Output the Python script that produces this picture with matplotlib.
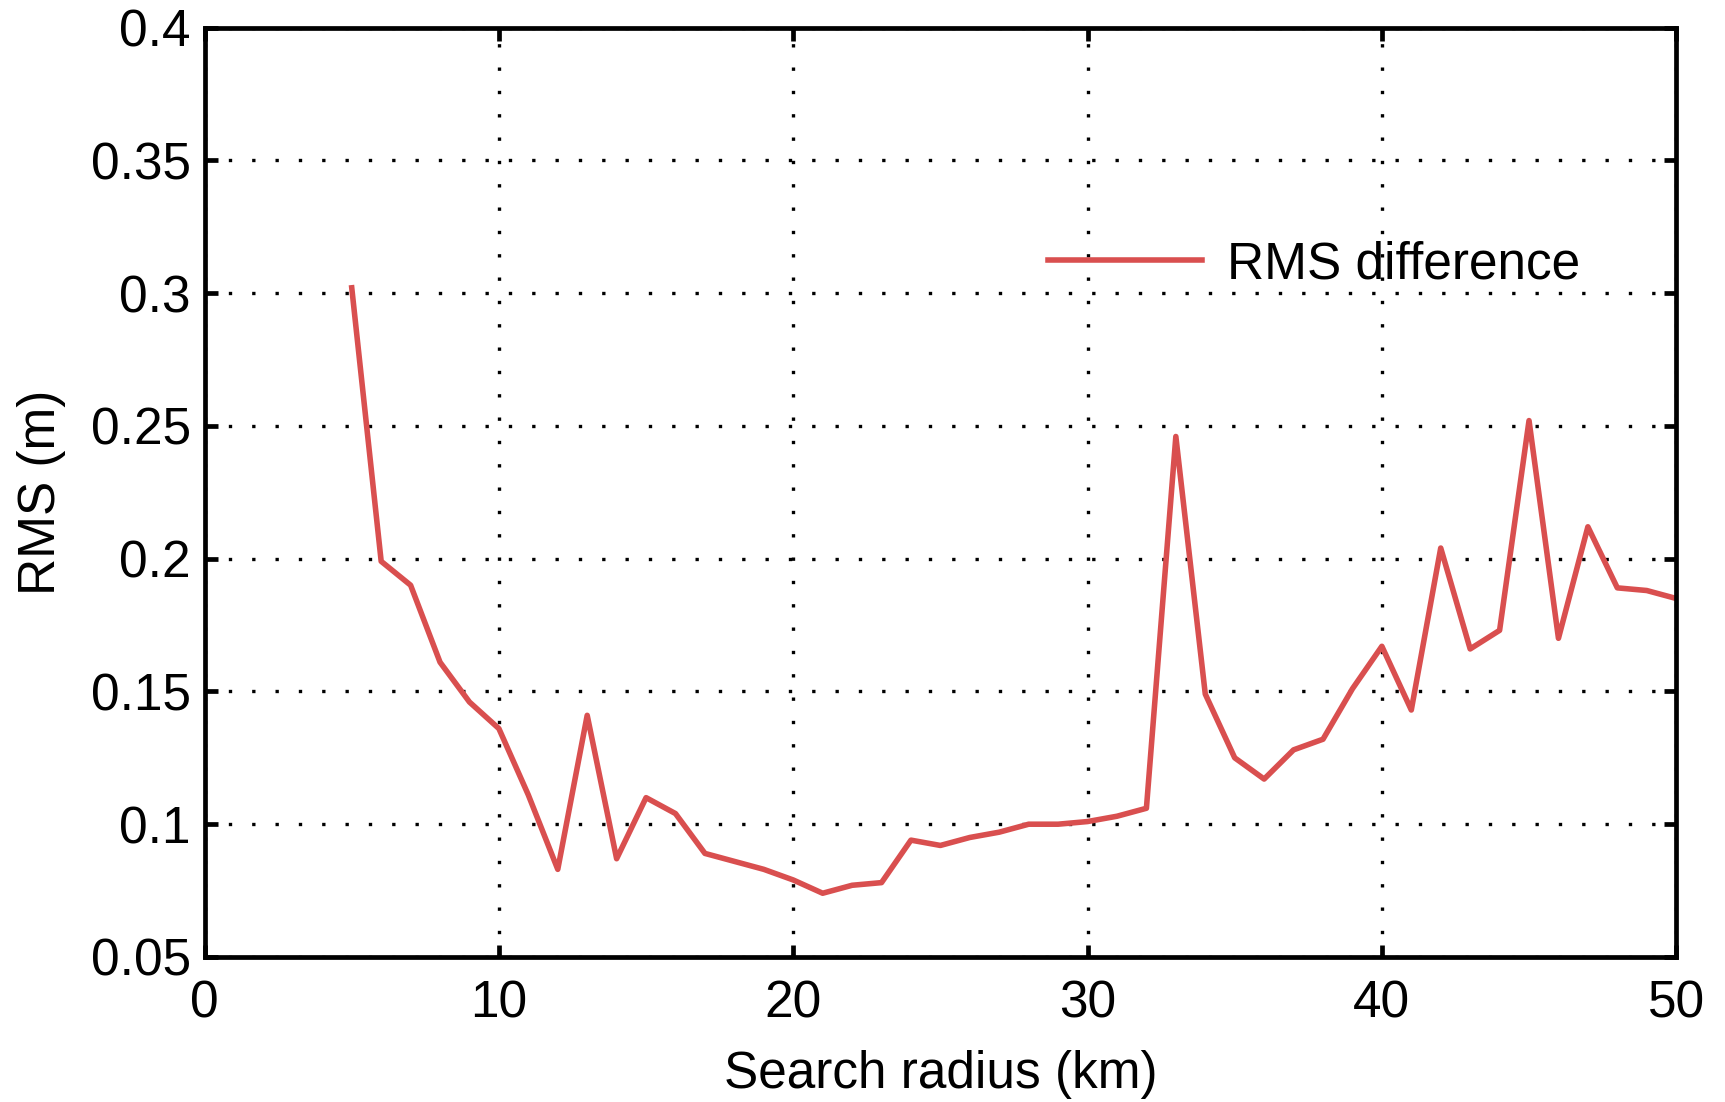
import matplotlib
matplotlib.use("Agg")
import matplotlib.pyplot as plt

plt.rcParams['font.family'] = ['Liberation Sans', 'DejaVu Sans']

radius_km = list(range(5, 51))
rms_m = [0.302, 0.199, 0.190, 0.161, 0.146, 0.136, 0.111, 0.083, 0.141, 0.087,
         0.110, 0.104, 0.089, 0.086, 0.083, 0.079, 0.074, 0.077, 0.078, 0.094,
         0.092, 0.095, 0.097, 0.100, 0.100, 0.101, 0.103, 0.106, 0.246, 0.149,
         0.125, 0.117, 0.128, 0.132, 0.151, 0.167, 0.143, 0.204, 0.166, 0.173,
         0.252, 0.170, 0.212, 0.189, 0.188, 0.185]
x_ticks = [0, 10, 20, 30, 40, 50]
y_ticks = [0.05, 0.1, 0.15, 0.2, 0.25, 0.3, 0.35, 0.4]
y_ticklabels = ['0.05', '0.1', '0.15', '0.2', '0.25', '0.3', '0.35', '0.4']

fs = 37
fig = plt.figure(figsize=(17.25, 11.02), dpi=100)
ax = fig.add_axes([0.1186, 0.1316, 0.8531, 0.8434])
ax.plot(radius_km, rms_m, color='#d94f4f', lw=4.0, label='RMS difference')
ax.set_xlim(0, 50)
ax.set_ylim(0.05, 0.4)
ax.set_xticks(x_ticks)
ax.set_yticks(y_ticks)
ax.set_yticklabels(y_ticklabels)
ax.tick_params(direction='in', length=9, width=3.4, labelsize=fs, top=True, right=True, pad=10)
ax.tick_params(axis='x', pad=16)
for s in ax.spines.values():
    s.set_linewidth(3.4)
ax.grid(True, color='black', linestyle=(0, (1, 6)), linewidth=2.4)
ax.set_xlabel('Search radius (km)', fontsize=fs, labelpad=16)
ax.set_ylabel('RMS (m)', fontsize=fs, labelpad=18)
leg = ax.legend(loc='center right', bbox_to_anchor=(0.935, 0.745), frameon=False, fontsize=fs,
                handlelength=3.0, handletextpad=0.5, borderpad=0, borderaxespad=0)
fig.savefig('out.png', dpi=100)
